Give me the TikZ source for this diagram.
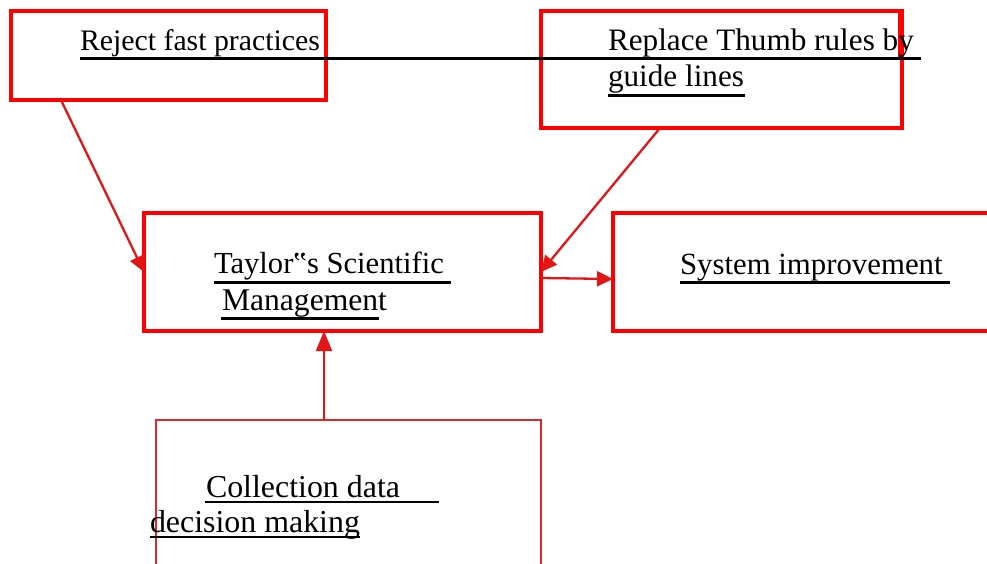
\documentclass[tikz,border=0pt]{standalone}
\usepackage{fontspec}
\setmainfont{Liberation Serif}
\usetikzlibrary{arrows.meta,calc}
\definecolor{boxred}{RGB}{255,0,0}
\definecolor{arrred}{RGB}{226,22,22}
\definecolor{thinred}{RGB}{224,40,40}
\newcommand{\fs}[1]{\fontsize{#1}{#1}\selectfont}
\begin{document}
\begin{tikzpicture}[x=1pt,y=-1pt,
  box/.style={draw=boxred,line width=3.2pt,rectangle,inner sep=0pt,outer sep=0pt,anchor=north west},
  thinbox/.style={draw=thinred,line width=1.7pt,rectangle,inner sep=0pt,outer sep=0pt,anchor=north west},
  lbl/.style={anchor=base west,inner sep=0pt,outer sep=0pt},
  uline/.style={line width=3pt,black},
  thinuline/.style={line width=1.8pt,black},
  conn/.style={draw=arrred,line width=2.3pt,-{Triangle[length=16pt,width=15pt]}},
  connup/.style={draw=arrred,line width=2pt,-{Triangle[length=20pt,width=16pt]}}]
\clip (0,0) rectangle (987,563);
\fill[white] (0,0) rectangle (987,563);
% boxes
\node[box,minimum width=315pt,minimum height=89pt] (reject) at (11,11) {};
\node[box,minimum width=361pt,minimum height=117pt] (replace) at (541,11) {};
\node[box,minimum width=397pt,minimum height=118pt] (taylor) at (144,213) {};
\node[box,minimum width=390pt,minimum height=118pt] (system) at (613,213) {};
\node[thinbox,minimum width=385pt,minimum height=170pt] (collect) at (156,420) {};
\draw[boxred,line width=1.2pt] ($(replace.north east)+(-3,0)$) coordinate (vtop) -- ($(vtop)+(0,47)$) coordinate (vbot);
% texts
\node[lbl,font=\fs{29.8}] (t1) at (80,50) {Reject fast practices};
\node[lbl,font=\fs{31.2}] (t2a) at (608,50) {Replace Thumb rules by};
\node[lbl,font=\fs{31.2}] (t2b) at (608,86) {guide lines};
\node[lbl,font=\fs{30.6}] (t3a) at (214,273) {Taylor‟s Scientific};
\node[lbl,font=\fs{31.6}] (t3b) at (222,310) {Management};
\node[lbl,font=\fs{30.8}] (t4) at (680,274) {System improvement};
\node[lbl,font=\fs{31.9}] (t5a) at (206,497) {Collection data};
\node[lbl,font=\fs{31.9}] (t5b) at (150,532) {decision making};
% underlines
\draw[uline] (80,58) coordinate (u1a) -- (921,58) coordinate (u1b);
\draw[uline] (608,95) coordinate (u2a) -- (745,95) coordinate (u2b);
\draw[uline] (214,282) coordinate (u3a) -- (451,282) coordinate (u3b);
\draw[uline] (221,318) coordinate (u4a) -- (379,318) coordinate (u4b);
\draw[uline] (680,282) coordinate (u5a) -- (950,282) coordinate (u5b);
\draw[thinuline] (205,502) coordinate (u6a) -- (439,502) coordinate (u6b);
\draw[uline,line width=2.5pt] (150,537) coordinate (u7a) -- (360,537) coordinate (u7b);
% connectors
\draw[conn] ($(reject.south west)+(49,-2)$) -- (taylor.west);
\draw[conn] ($(replace.south west)+(119,0)$) -- (taylor.east);
\draw[conn] ($(taylor.east)+(0,6)$) -- ($(system.west)+(0,7)$);
\draw[connup] ($(collect.north west)+(168,0)$) coordinate (cup) -- (cup |- taylor.south);
\end{tikzpicture}
\end{document}
